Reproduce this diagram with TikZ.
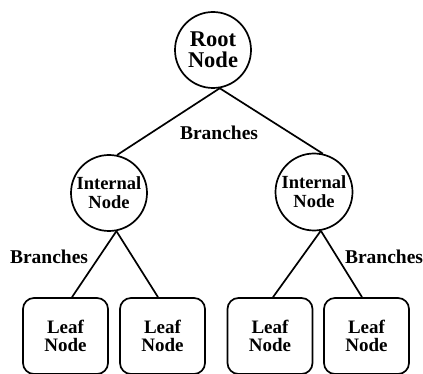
\documentclass[tikz,border=0pt]{standalone}
\usepackage{fontspec}
\setmainfont{Liberation Serif}
\begin{document}
\begin{tikzpicture}[x=1pt,y=-1pt,
  line width=1.7pt,
  circ/.style={draw, circle, minimum size=#1, inner sep=0pt, align=center, font=\bfseries\fontsize{18.5}{19}\selectfont},
  leafbox/.style={draw, rounded corners=11pt, minimum width=85pt, minimum height=76pt, align=center, font=\bfseries\fontsize{19}{18}\selectfont},
  lbl/.style={font=\bfseries\fontsize{19.5}{20}\selectfont}]
\useasboundingbox (0,0) rectangle (423,374);
\node[circ=76pt, font=\bfseries\fontsize{22.5}{21}\selectfont] (root) at (213,50) {Root\\Node};
\node[circ=76pt] (li) at (109,193) {Internal\\Node};
\node[circ=77pt] (ri) at (314,192) {Internal\\Node};
\node[leafbox] (l1) at (65.5,336) {Leaf\\Node};
\node[leafbox] (l2) at (162.5,336) {Leaf\\Node};
\node[leafbox] (l3) at (270,336) {Leaf\\Node};
\node[leafbox] (l4) at (366.5,336) {Leaf\\Node};
\draw (root.-80) -- (li.78);
\draw (root.-80) -- (ri.77);
\draw (li.-79) -- (l1.north -| 72,0);
\draw (li.-79) -- (l2.north -| 158,0);
\draw (ri.-80) -- (l3.north -| 273,0);
\draw (ri.-80) -- (l4.north -| 362,0);
\node[lbl] (b0) at (219,133) {Branches};
\node[lbl] (b1) at (49,257) {Branches};
\node[lbl] (b2) at (384,257) {Branches};
\end{tikzpicture}
\end{document}
